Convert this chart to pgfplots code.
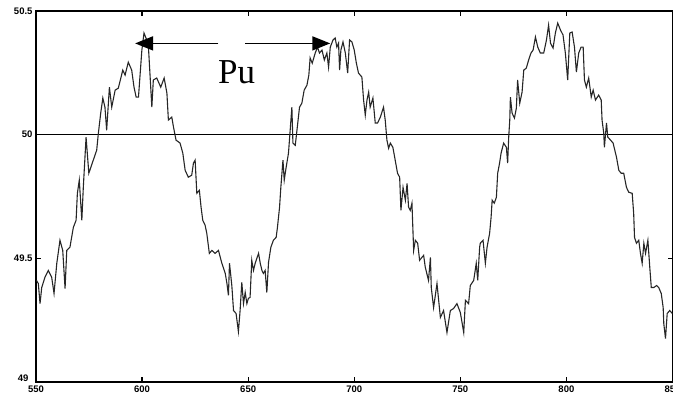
\documentclass[border=0pt]{standalone}
\usepackage{pgfplots}
\pgfplotsset{compat=1.18}
\usepackage{pgfplotstable}
\usepackage{fontspec}
\setmainfont{Liberation Sans}
\newfontfamily\labelserif{Liberation Serif}
\usetikzlibrary{arrows.meta}

% Frequency record (Hz) against time (s)
\pgfplotstableread{
t f
550.2 49.411
551.1 49.398
551.9 49.317
552.7 49.382
554.2 49.423
555.8 49.451
557.4 49.423
558.5 49.358
559.8 49.480
561.3 49.573
562.6 49.532
563.7 49.378
564.5 49.532
566.0 49.545
567.6 49.625
568.9 49.654
569.5 49.763
570.4 49.816
571.6 49.654
572.3 49.787
573.6 49.990
574.9 49.844
577.0 49.897
578.6 49.937
579.4 50.006
580.5 50.087
581.5 50.148
582.5 50.111
583.3 50.018
584.6 50.192
585.7 50.111
587.3 50.180
588.8 50.188
590.9 50.261
592.0 50.241
593.5 50.293
595.1 50.261
596.2 50.192
597.2 50.152
598.3 50.152
599.9 50.342
600.9 50.411
602.2 50.383
603.0 50.354
603.8 50.233
604.6 50.111
605.3 50.221
606.9 50.229
608.8 50.192
610.4 50.229
611.7 50.168
612.4 50.059
614.0 50.071
614.8 50.031
616.0 49.978
617.9 49.966
619.2 49.925
620.3 49.856
621.8 49.828
623.4 49.836
624.2 49.885
625.0 49.897
625.8 49.763
627.0 49.775
627.8 49.707
628.6 49.654
629.7 49.634
630.5 49.601
631.7 49.520
632.9 49.532
634.4 49.520
636.0 49.532
637.6 49.480
639.2 49.439
640.0 49.398
640.7 49.350
641.2 49.480
642.3 49.390
643.1 49.289
644.3 49.277
645.4 49.204
646.2 49.289
647.0 49.403
647.8 49.317
648.6 49.362
649.4 49.317
650.1 49.338
650.9 49.342
651.7 49.492
652.5 49.451
653.3 49.480
654.9 49.520
655.7 49.480
656.5 49.451
657.2 49.439
658.0 49.451
658.8 49.362
659.6 49.484
660.7 49.545
661.9 49.573
663.2 49.585
663.8 49.625
664.8 49.707
665.4 49.787
666.4 49.897
667.0 49.816
667.9 49.868
669.0 49.925
669.8 50.018
670.6 50.111
671.1 49.966
672.2 49.957
673.0 50.018
674.2 50.111
675.3 50.127
676.4 50.180
677.7 50.200
678.6 50.241
679.2 50.310
680.2 50.289
681.6 50.330
682.7 50.354
683.6 50.330
684.8 50.342
685.9 50.302
687.1 50.330
687.9 50.273
688.7 50.354
690.0 50.383
691.0 50.391
691.8 50.354
692.6 50.370
693.1 50.261
693.7 50.342
694.7 50.375
695.8 50.330
696.9 50.249
697.8 50.383
698.9 50.375
700.0 50.342
701.0 50.289
702.0 50.249
703.6 50.233
704.4 50.140
705.2 50.079
706.0 50.140
706.8 50.172
707.5 50.111
708.8 50.148
709.9 50.047
711.0 50.047
712.3 50.071
713.8 50.111
714.6 50.059
715.4 49.978
716.2 49.945
717.0 49.966
718.2 49.949
719.3 49.897
720.4 49.844
721.4 49.828
722.0 49.694
723.0 49.787
724.1 49.735
724.9 49.803
725.6 49.707
726.4 49.694
727.2 49.723
728.0 49.532
728.8 49.573
729.9 49.561
730.8 49.492
731.9 49.504
732.7 49.512
733.5 49.463
735.0 49.411
735.9 49.504
736.3 49.382
737.4 49.301
739.0 49.398
740.6 49.261
742.1 49.289
743.7 49.200
745.3 49.289
746.8 49.297
748.4 49.317
750.0 49.281
751.6 49.200
752.4 49.330
753.9 49.317
754.7 49.390
756.3 49.411
757.5 49.480
758.2 49.411
759.1 49.545
759.4 49.561
760.7 49.573
761.8 49.480
762.6 49.545
763.8 49.601
764.5 49.666
765.0 49.735
766.0 49.723
767.0 49.747
767.6 49.844
768.5 49.885
769.2 49.925
770.4 49.966
771.7 49.949
772.3 49.885
772.8 49.990
773.3 50.059
773.6 50.152
774.4 50.087
775.5 50.067
776.4 50.107
777.0 50.221
778.0 50.127
779.1 50.172
779.9 50.261
781.1 50.269
782.2 50.302
783.3 50.330
784.3 50.342
785.4 50.395
786.5 50.354
787.7 50.330
789.3 50.330
790.6 50.383
791.6 50.443
792.5 50.370
793.7 50.350
794.8 50.411
795.9 50.451
797.2 50.423
798.4 50.403
799.5 50.330
800.6 50.221
801.6 50.411
802.7 50.415
803.8 50.354
804.7 50.253
805.8 50.330
806.9 50.354
807.9 50.354
808.5 50.221
809.4 50.192
810.5 50.229
811.7 50.152
812.6 50.180
813.7 50.140
815.2 50.160
816.4 50.140
816.8 50.059
817.6 50.006
817.9 49.949
818.9 50.047
819.5 49.990
820.8 49.978
822.0 49.966
823.6 49.909
824.7 49.856
825.8 49.844
827.0 49.844
828.3 49.787
829.4 49.767
831.0 49.763
831.7 49.682
832.1 49.585
833.0 49.561
834.1 49.573
834.9 49.520
835.7 49.480
836.5 49.561
837.3 49.520
838.4 49.573
839.3 49.463
840.0 49.382
841.2 49.382
842.5 49.390
843.5 49.382
844.7 49.358
845.6 49.301
845.9 49.236
846.7 49.176
847.5 49.277
848.7 49.289
849.9 49.277
}\freqdata

\begin{document}
\begin{tikzpicture}
\begin{axis}[
  scale only axis,
  width=636.5pt, height=371pt,
  at={(0,0)}, anchor=south west,
  xmin=550, xmax=850, ymin=49, ymax=50.5,
  xtick={550,600,650,700,750,800,850},
  ytick={49.5,50,50.5},
  extra y ticks={49},
  extra y tick style={yticklabel style={yshift=4pt, xshift=-4pt}},
  tick align=inside,
  major tick length=5pt,
  xtick pos=both, ytick pos=both,
  xticklabel pos=lower, yticklabel pos=left,
  axis line style={line width=1.8pt},
  every tick/.style={black, line width=1.2pt},
  tick label style={font=\bfseries\fontsize{9.5}{11}\selectfont},
  /pgf/number format/assume math mode=true,
  clip=true,
]
  % zero-deviation reference at 50 Hz
  \addplot[black, line width=0.9pt] coordinates {(550,50) (850,50)};
  % measured frequency
  \addplot[black!85, line width=1.1pt] table[x=t, y=f] {\freqdata};
  % period marker
  \draw[line width=1.6pt, -{Triangle[length=18pt,width=14pt]}]
    (axis cs:635.9,50.369) -- (axis cs:596.7,50.369);
  \draw[line width=1.6pt, -{Triangle[length=18pt,width=14pt]}]
    (axis cs:648.6,50.369) -- (axis cs:688.7,50.369);
  \node[anchor=base, inner sep=0pt, font=\labelserif\fontsize{35}{37}\selectfont]
    at (axis cs:644.6,50.208) {Pu};
\end{axis}
\pgfresetboundingbox
\path[use as bounding box] (-36pt,-12pt) rectangle (637pt,382pt);
\end{tikzpicture}
\end{document}
